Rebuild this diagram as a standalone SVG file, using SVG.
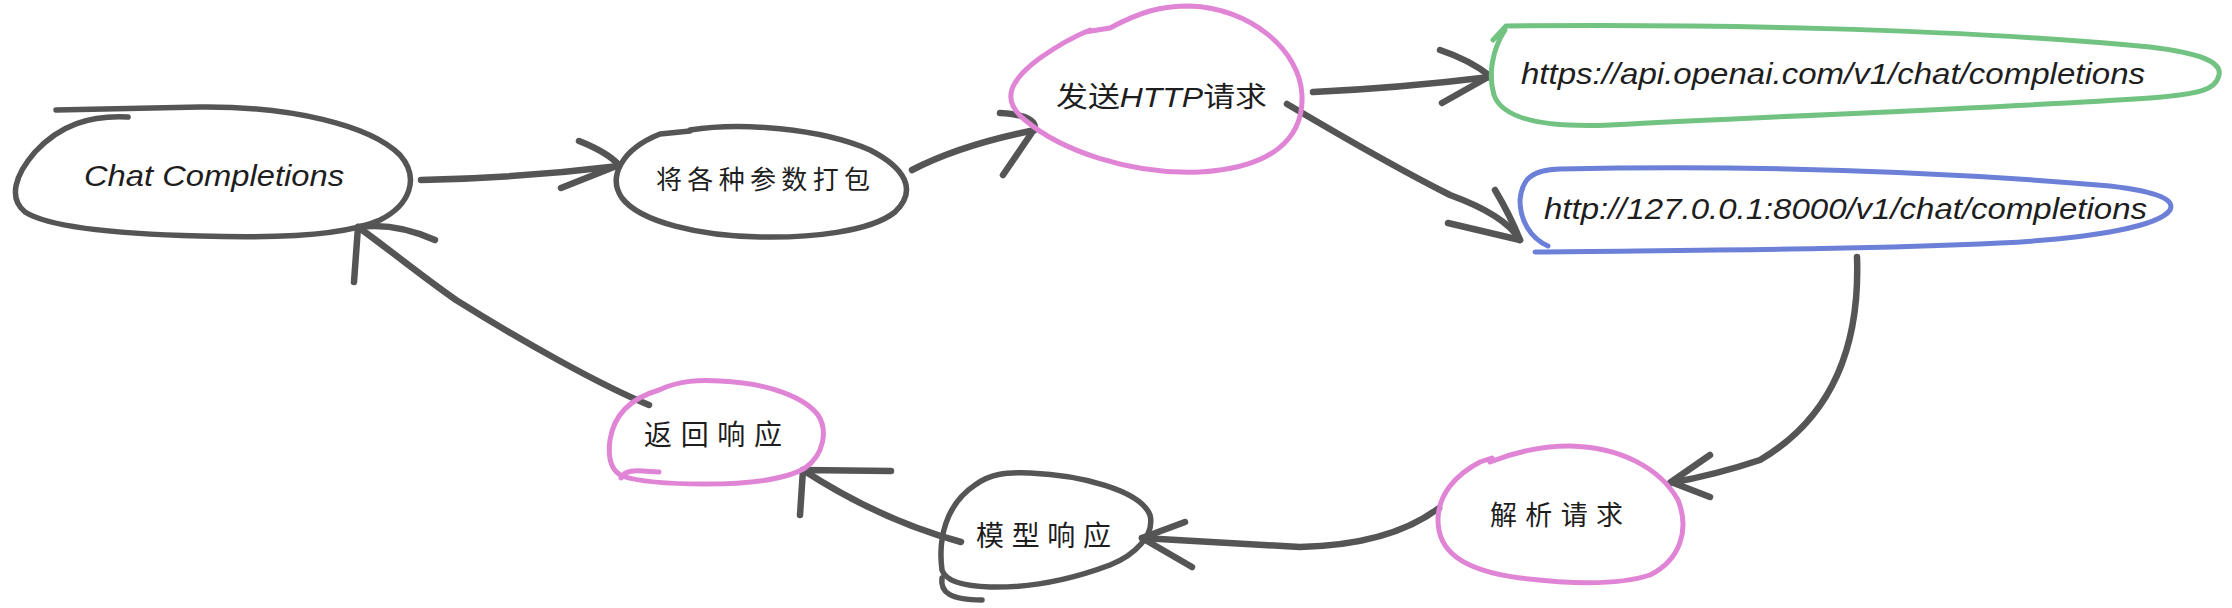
<svg xmlns="http://www.w3.org/2000/svg" width="2232" height="608" viewBox="0 0 2232 608">
<style>
.bg{fill:#ffffff}
.shape{fill:none;stroke-width:5;stroke-linecap:round;stroke-linejoin:round}
.dark{stroke:#555555;stroke-width:5.5}
.pink{stroke:#e085d5}
.green{stroke:#72c282}
.blue{stroke:#6c80d8}
.edge{fill:none;stroke:#555555;stroke-width:6.5;stroke-linecap:round;stroke-linejoin:round}
.lat{font-family:"Liberation Sans","DejaVu Sans",sans-serif;font-style:italic;fill:#1e1e1e;text-anchor:start}
.cjk{font-family:"Liberation Sans","Noto Sans CJK SC",sans-serif;fill:#1e1e1e;text-anchor:start}
</style>
<rect class="bg" x="0" y="0" width="2232" height="608"/>
<g id="connectors">
  <path class="edge" d="M421,180 Q520,178 619,166"/>
  <path class="edge" d="M579,141 Q607,152 619,165 L561,188"/>
  <path class="edge" d="M912,170 Q960,145 1035,130"/>
  <path class="edge" d="M1000,113 Q1035,115 1035,128 L1003,175"/>
  <path class="edge" d="M1313,92 Q1400,88 1490,77"/>
  <path class="edge" d="M1440,50 Q1470,60 1490,76 L1442,103"/>
  <path class="edge" d="M1287,104 Q1390,165 1450,195 Q1505,215 1520,240"/>
  <path class="edge" d="M1495,190 Q1510,215 1520,240 L1448,223"/>
  <path class="edge" d="M1857,257 Q1862,400 1760,460 Q1715,475 1670,483"/>
  <path class="edge" d="M1710,455 L1671,482 L1710,497"/>
  <path class="edge" d="M1439,508 Q1390,545 1300,547 L1142,538"/>
  <path class="edge" d="M1185,522 L1142,538 L1192,567"/>
  <path class="edge" d="M961,542 Q880,520 803,470"/>
  <path class="edge" d="M891,471 L803,470 L800,515"/>
  <path class="edge" d="M649,405 C600,385 520,340 456,300 C420,275 390,250 358,227"/>
  <path class="edge" d="M435,240 Q395,222 358,227 L354,282"/>
</g>
<g id="node-chat">
  <path class="shape dark" d="M56,110 L200,107 C290,106 370,125 400,155 C420,178 410,205 380,220 C340,238 260,238 200,236 C120,234 50,228 25,212 C8,198 15,175 35,152 C60,125 90,115 128,117"/>
  <text class="lat" x="84" y="186" font-size="29" textLength="260" lengthAdjust="spacingAndGlyphs">Chat Completions</text>
</g>
<g id="node-pack">
  <path class="shape dark" d="M690,130 C740,122 820,128 870,150 C905,168 918,190 895,212 C870,232 810,238 760,237 C700,236 640,222 622,198 C608,178 620,150 660,134 L690,131"/>
  <text class="cjk" x="656" y="189" font-size="26" textLength="214" lengthAdjust="spacing">将各种参数打包</text>
</g>
<g id="node-send">
  <path class="shape pink" d="M1085,32 L1110,28 C1140,12 1160,6 1190,6 C1250,8 1300,50 1302,95 C1304,140 1270,168 1200,172 C1130,175 1060,150 1025,120 C1000,100 1010,80 1040,58 C1060,44 1075,36 1090,30"/>
  <text class="cjk" x="1056" y="107" font-size="28" textLength="211" lengthAdjust="spacingAndGlyphs">发送<tspan font-style="italic">HTTP</tspan>请求</text>
</g>
<g id="node-openai">
  <path class="shape green" d="M1493,40 L1506,26 C1700,24 1950,28 2150,47 C2200,53 2222,62 2219,75 C2216,90 2200,94 2150,98 C2000,108 1800,115 1610,125 C1540,128 1502,118 1494,95 C1488,75 1492,50 1505,30"/>
  <text class="lat" x="1521" y="84" font-size="30" textLength="624" lengthAdjust="spacingAndGlyphs">https://api.openai.com/v1/chat/completions</text>
</g>
<g id="node-local">
  <path class="shape blue" d="M1548,246 C1530,238 1520,220 1520,200 C1522,180 1530,170 1560,169 C1700,166 1900,168 2110,186 C2160,192 2175,200 2170,210 C2160,225 2100,238 2000,243 C1850,250 1700,250 1535,252"/>
  <text class="lat" x="1544" y="219" font-size="30" textLength="603" lengthAdjust="spacingAndGlyphs">http://127.0.0.1:8000/v1/chat/completions</text>
</g>
<g id="node-parse">
  <path class="shape pink" d="M1490,462 C1520,450 1545,446 1570,446 C1620,447 1660,468 1678,500 C1690,530 1680,560 1650,575 C1620,585 1570,584 1520,578 C1460,570 1438,550 1438,520 C1438,495 1455,475 1480,462 L1492,458"/>
  <text class="cjk" x="1490" y="525" font-size="27" textLength="133" lengthAdjust="spacing">解析请求</text>
</g>
<g id="node-model">
  <path class="shape dark" d="M975,485 C990,474 1005,472 1030,473 C1080,475 1140,490 1150,515 C1155,535 1135,555 1110,565 C1070,580 1030,588 990,587 C960,586 945,580 942,570 C938,540 945,505 975,485"/>
  <path class="shape dark" d="M942,578 C940,592 950,600 982,600"/>
  <text class="cjk" x="976" y="546" font-size="28" textLength="135" lengthAdjust="spacing">模型响应</text>
</g>
<g id="node-return">
  <path class="shape pink" d="M659,390 C680,380 700,380 720,381 C770,383 805,398 818,415 C828,430 824,455 805,468 C785,480 750,484 705,484 C670,484 640,482 622,476 C610,470 608,455 610,440 C613,420 625,400 659,390"/>
  <path class="shape pink" d="M659,472 C640,471 625,468 621,478"/>
  <text class="cjk" x="644" y="445" font-size="28" textLength="138" lengthAdjust="spacing">返回响应</text>
</g>
</svg>
